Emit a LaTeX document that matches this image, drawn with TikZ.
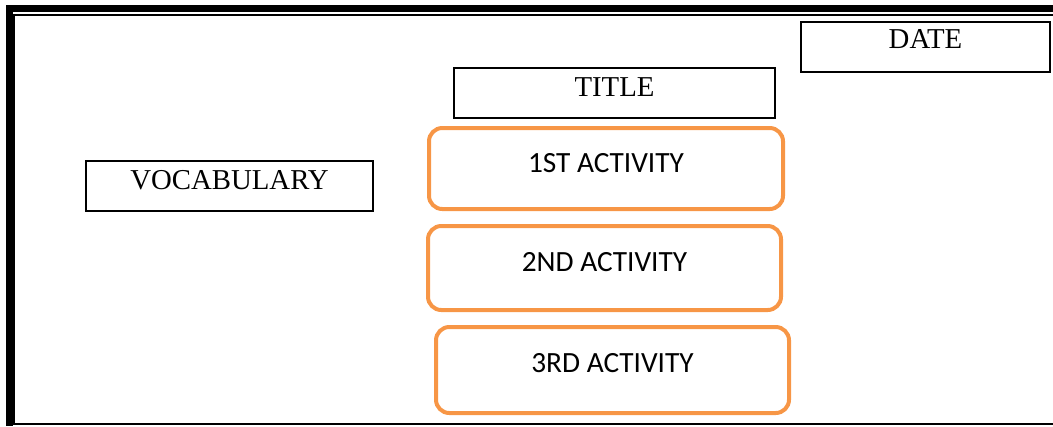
\documentclass[tikz,border=0pt]{standalone}
\usepackage{fontspec}
\setmainfont{Liberation Serif}
\newfontfamily\actfont{Carlito}
\definecolor{actorange}{HTML}{F79646}
\begin{document}
\begin{tikzpicture}[
        x=0.75pt, y=-0.75pt,
        plainbox/.style={draw, rectangle, line width=1.5pt, font=\fontsize{21.6}{24}\selectfont, text depth=9pt, minimum height=37.5pt},
        actbox/.style={draw=actorange, rectangle, rounded corners=10pt, line width=3pt, font=\actfont\fontsize{22}{26}\selectfont, text depth=9pt}
    ]
        \useasboundingbox (0,0) rectangle (1053,426);
        % page border
        \draw[line width=5.25pt] (1053,8.5) -| (9,426);
        \draw[line width=1.5pt] (1053,15) -| (14,424) -- (1053,424);

        \node[plainbox, minimum width=186.75pt, text depth=12pt] (date) at (925.5,47) {DATE};
        \node[plainbox, minimum width=240.75pt] (title) at (614.5,93) {TITLE};
        \node[plainbox, minimum width=215.25pt] (vocab) at (229.5,186) {VOCABULARY};

        \node[actbox, minimum width=265.5pt, minimum height=60.75pt] (act1) at (606,168.5) {1ST ACTIVITY};
        \node[actbox, minimum width=264.75pt, minimum height=63pt] (act2) at (604.5,268) {2ND ACTIVITY};
        \node[actbox, minimum width=264.75pt, minimum height=64.5pt, text depth=11pt] (act3) at (612.5,370) {3RD ACTIVITY};
    \end{tikzpicture}
\end{document}
